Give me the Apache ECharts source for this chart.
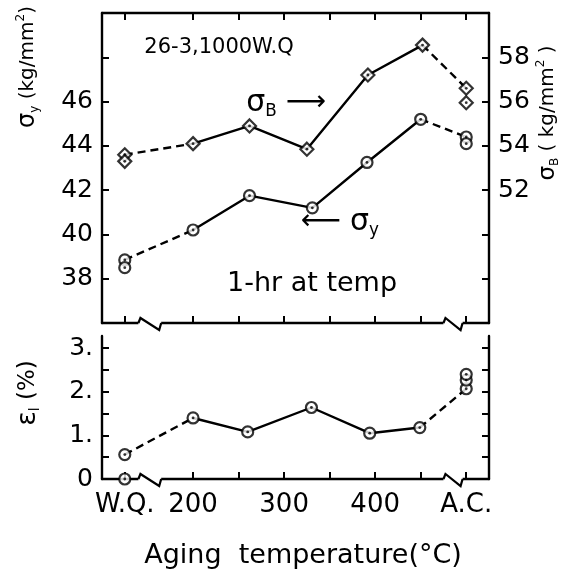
<!DOCTYPE html>
<html>
<head>
<meta charset="utf-8">
<script src="https://cdn.jsdelivr.net/npm/echarts@6/dist/echarts.min.js"></script>
<style>
html, body { margin: 0; padding: 0; background: #fff; }
#chart { width: 574px; height: 572px; }
</style>
</head>
<body>
<div id="chart"></div>
<script>
// --- axe des températures : W.Q. et A.C. sont placés hors échelle ---
const WQ = 125;
const AC = 500;
const xTicks = [WQ, 200, 250, 300, 350, 400, 450, AC];
const xLabels = [WQ, 200, 300, 400, AC];

// sigma y (kg/mm2), axe de gauche
const sigYTemps = [200, 262, 331, 391, 450];
const sigYVals = [40.2, 41.75, 41.2, 43.25, 45.2];
const sigYWQ = [38.85, 38.5];   // le premier point est relié
const sigYAC = [44.4, 44.1];

// sigma B (kg/mm2), axe de droite
const sigBTemps = [200, 262, 325, 392, 452];
const sigBVals = [54.1, 54.9, 53.85, 57.2, 58.55];
const sigBWQ = [53.6, 53.3];
const sigBAC = [56.6, 55.95];

// allongement (%)
const elTemps = [200, 260, 330, 394, 449];
const elVals = [1.4, 1.08, 1.64, 1.05, 1.18];
const elWQ = [0.56, 0];
const elAC = [2.07, 2.27, 2.4];

const FONT = 'DejaVu Sans';
const BLACK = '#000';

const chart = echarts.init(document.getElementById('chart'));

function curve(xi, yi, temps, vals, wq, ac, symbol, size) {
  const main = temps.map((t, i) => [t, vals[i]]);
  const pts = wq.map(v => [WQ, v]).concat(main, ac.map(v => [AC, v]));
  const line = {
    type: 'line', xAxisIndex: xi, yAxisIndex: yi, showSymbol: false,
    lineStyle: { color: BLACK, width: 2.4 }, animation: false, z: 2
  };
  const dashed = { color: BLACK, width: 2.4, type: [8, 5] };
  return [
    Object.assign({}, line, { data: main }),
    Object.assign({}, line, { data: [[WQ, wq[0]], main[0]], lineStyle: dashed }),
    Object.assign({}, line, { data: [main[main.length - 1], [AC, ac[0]]], lineStyle: dashed }),
    {
      type: 'scatter', xAxisIndex: xi, yAxisIndex: yi, data: pts,
      symbol: symbol, symbolSize: size, z: 3, animation: false,
      itemStyle: { color: '#fff', borderColor: BLACK, borderWidth: 2.2 }
    },
    {
      type: 'scatter', xAxisIndex: xi, yAxisIndex: yi, data: pts,
      symbol: 'circle', symbolSize: 2.8, z: 4, animation: false,
      itemStyle: { color: BLACK }
    }
  ];
}

const axisLine = { show: true, lineStyle: { color: BLACK, width: 2.4 } };
const tick = { inside: true, length: 7, lineStyle: { color: BLACK, width: 2 } };

function xAxis(grid, pos, labels) {
  return {
    type: 'value', gridIndex: grid, position: pos, min: 100, max: 525,
    axisLine: axisLine, splitLine: { show: false },
    axisTick: Object.assign({ customValues: xTicks }, tick),
    axisLabel: labels ? {
      customValues: xLabels, margin: 13, color: BLACK,
      fontFamily: FONT, fontSize: 26,
      formatter: v => v === WQ ? 'W.Q.' : (v === AC ? 'A.C.' : String(v))
    } : { show: false }
  };
}

function yAxis(grid, pos, min, max, ticks, labels, fmt) {
  return {
    type: 'value', gridIndex: grid, position: pos, min: min, max: max,
    axisLine: axisLine, splitLine: { show: false },
    axisTick: Object.assign({ customValues: ticks }, tick),
    axisLabel: labels ? {
      customValues: labels, margin: 9, color: BLACK,
      fontFamily: FONT, fontSize: 25, formatter: fmt
    } : { show: false }
  };
}

chart.setOption({
  animation: false,
  backgroundColor: '#fff',
  grid: [
    { left: 102, right: 85, top: 13, height: 310 },
    { left: 102, right: 85, top: 336, height: 143 }
  ],
  xAxis: [
    xAxis(0, 'bottom', false),
    xAxis(0, 'top', false),
    xAxis(1, 'bottom', true)
  ],
  yAxis: [
    yAxis(0, 'left', 36, 50, [38, 40, 42, 44, 46, 48], [38, 40, 42, 44, 46]),
    yAxis(0, 'right', 46, 60, [48, 50, 52, 54, 56, 58], [52, 54, 56, 58]),
    yAxis(1, 'left', 0, 3.28, [0.5, 1, 1.5, 2, 2.5, 3], [0, 1, 2, 3],
      v => v === 0 ? '0' : v + '.'),
    yAxis(1, 'right', 0, 3.28, [0.5, 1, 1.5, 2, 2.5, 3], null)
  ],
  series: [].concat(
    curve(0, 0, sigYTemps, sigYVals, sigYWQ, sigYAC, 'circle', 11),
    curve(0, 1, sigBTemps, sigBVals, sigBWQ, sigBAC, 'diamond', 13),
    curve(2, 2, elTemps, elVals, elWQ, elAC, 'circle', 11)
  )
});

// --- coupures de l'axe (zigzag) ---
function breakMark(xi, yi, yv, a, b) {
  const x1 = chart.convertToPixel({ xAxisIndex: xi }, a);
  const x2 = chart.convertToPixel({ xAxisIndex: xi }, b);
  const y = chart.convertToPixel({ yAxisIndex: yi }, yv);
  return [
    { type: 'rect', z: 50, shape: { x: x1, y: y - 3, width: x2 - x1, height: 6 },
      style: { fill: '#fff' } },
    { type: 'polyline', z: 51,
      shape: { points: [[x1, y], [x1 + 2, y - 5], [x2 - 2, y + 7], [x2, y]] },
      style: { stroke: BLACK, lineWidth: 2.2, fill: null } }
  ];
}

function label(x, y, text, size, rich, rot) {
  return {
    type: 'text', x: x, y: y, rotation: rot || 0, z: 60,
    style: {
      text: text, fill: BLACK, fontFamily: FONT, fontSize: size,
      align: 'center', verticalAlign: 'middle',
      textAlign: 'center', textVerticalAlign: 'middle',
      rich: rich || {}
    }
  };
}

function subRich(size, big) {
  const s = size * 0.6;
  return {
    m: { fontSize: size, fontFamily: FONT, lineHeight: size + 6, fill: BLACK },
    g: { fontSize: big || size, fontFamily: FONT, lineHeight: size + 6, fill: BLACK },
    sub: { fontSize: s, fontFamily: FONT, verticalAlign: 'bottom', lineHeight: s, fill: BLACK },
    sup: { fontSize: s, fontFamily: FONT, verticalAlign: 'top', lineHeight: s, fill: BLACK }
  };
}

const graphics = [].concat(
  breakMark(0, 0, 36, 140, 165),
  breakMark(0, 0, 36, 475, 496),
  breakMark(2, 2, 0, 140, 165),
  breakMark(2, 2, 0, 475, 496),
  [
    label(219, 48, '26-3,1000W.Q', 21),
    label(312, 284, '1-hr at temp', 27),
    label(286, 103, '{g|σ}{sub|B} {m|⟶}', 28, subRich(28, 30)),
    label(340, 222, '{m|⟵} {g|σ}{sub|y}', 28, subRich(28, 30)),
    label(28, 67, '{g|σ}{sub|y}{m| (kg/mm}{sup|2}{m|)}', 20, subRich(20, 24), Math.PI / 2),
    label(548, 113, '{g|σ}{sub|B}{m| ( kg/mm}{sup|2}{m| )}', 20, subRich(20, 23), Math.PI / 2),
    label(28, 393, '{g|ε}{sub|l}{m| (%)}', 23, subRich(23, 27), Math.PI / 2),
    label(303, 556, 'Aging  temperature(°C)', 27)
  ]
);

chart.setOption({ graphic: graphics });
</script>
</body>
</html>
